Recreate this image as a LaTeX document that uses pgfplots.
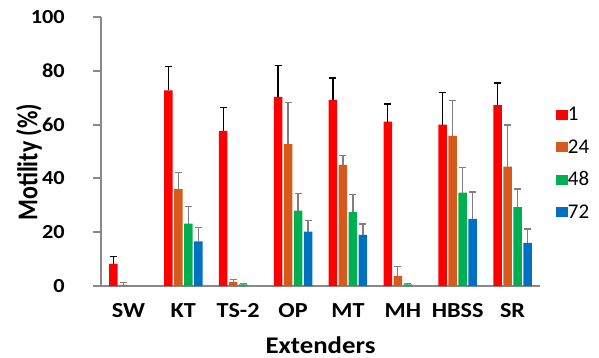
\documentclass[border=0pt]{standalone}
\usepackage{fontspec}
\setmainfont{Carlito}
\newfontfamily\fyt[FakeStretch=1.12]{Carlito}
\newfontfamily\fxt[FakeStretch=1.13]{Carlito}
\newfontfamily\fxl[FakeStretch=1.12]{Carlito}
\usepackage{graphicx}
\usepackage{pgfplots}
\pgfplotsset{compat=1.18}
\definecolor{cRed}{HTML}{FF0000}
\definecolor{cOrg}{HTML}{D55A1B}
\definecolor{cGrn}{HTML}{00B050}
\definecolor{cBlu}{HTML}{0070C0}
\definecolor{axgray}{HTML}{898989}
\definecolor{errgray}{HTML}{7F7F7F}
\begin{document}
\begin{tikzpicture}
\begin{axis}[
  at={(0,0)}, anchor=south west,
  scale only axis, width=439bp, height=269bp,
  xmin=-0.5, xmax=7.5, ymin=0, ymax=100,
  axis x line=bottom, axis y line=left,
  axis line style={axgray, line width=2.5bp, -},
  xtick=data,
  xticklabels={SW,KT,TS-2,OP,MT,MH,HBSS,SR},
  xtick style={draw=none},
  ytick={0,20,40,60,80,100},
  ytick style={axgray, line width=2bp},
  tick align=outside, major tick length=8bp,
  /pgf/number format/assume math mode=true,
  yticklabel style={font=\fyt\fontsize{20}{24}\selectfont\bfseries, anchor=east, inner sep=0pt, xshift=-28bp},
  xticklabel style={font=\fxt\fontsize{21.5}{24}\selectfont\bfseries, anchor=base, inner sep=0pt, yshift=-23bp},
  xlabel={Extenders}, ylabel={\scalebox{1}[1.2]{Motility (\%)}},
  xlabel style={font=\fxl\fontsize{24}{28}\selectfont\bfseries, at={(axis description cs:0.5,0)}, anchor=base, inner sep=0pt, yshift=-67bp},
  ylabel style={font=\fontsize{24}{28}\selectfont\bfseries, at={(axis description cs:-0.1641,0.46)}, anchor=center, inner sep=0pt},
  ybar, bar width=8.5bp,
  clip=false,
  legend style={draw=none, fill=none, at={(1.0364,0.456)}, anchor=west, inner sep=0pt, outer sep=0pt,
    font=\fontsize{21}{24}\selectfont, row sep=20bp,
    nodes={inner sep=0pt, text height=12.5bp, text depth=0pt}},
  legend cell align=left,
  legend image code/.code={\fill[#1] (0bp,-5bp) rectangle (12bp,5bp);},
  error bars/y dir=plus, error bars/y explicit,
  error bars/error bar style={line width=1.3bp},
  error bars/error mark options={rotate=90, mark size=3.5bp, line width=1.3bp},
]
\addplot[fill=cRed, draw=none, bar shift=-15bp,
  error bars/error bar style={black, line width=1.3bp},
  error bars/error mark options={black, rotate=90, mark size=3.5bp, line width=1.3bp}]
  coordinates {(0,8.2) +- (0,2.7) (1,72.7) +- (0,8.8) (2,57.7) +- (0,8.7) (3,70.3) +- (0,11.8)
               (4,69.2) +- (0,8.1) (5,61.1) +- (0,6.6) (6,60.0) +- (0,11.9) (7,67.2) +- (0,8.3)};
\addplot[fill=cOrg, draw=none, bar shift=-5bp,
  error bars/error bar style={errgray, line width=1.3bp},
  error bars/error mark options={errgray, rotate=90, mark size=3.5bp, line width=1.3bp}]
  coordinates {(0,0.4) +- (0,0.8) (1,36.0) +- (0,6.2) (2,1.5) +- (0,1.0) (3,52.7) +- (0,15.5)
               (4,45.0) +- (0,3.5) (5,3.8) +- (0,3.4) (6,55.8) +- (0,13.2) (7,44.4) +- (0,15.4)};
\addplot[fill=cGrn, draw=none, bar shift=5bp,
  error bars/error bar style={errgray, line width=1.3bp},
  error bars/error mark options={errgray, rotate=90, mark size=3.5bp, line width=1.3bp}]
  coordinates {(1,23.2) +- (0,6.3) (2,0.6) +- (0,0.2) (3,28.0) +- (0,6.5)
               (4,27.5) +- (0,6.4) (5,0.6) +- (0,0.2) (6,34.7) +- (0,9.3) (7,29.3) +- (0,6.8)};
\addplot[fill=cBlu, draw=none, bar shift=15bp,
  error bars/error bar style={errgray, line width=1.3bp},
  error bars/error mark options={errgray, rotate=90, mark size=3.5bp, line width=1.3bp}]
  coordinates {(1,16.6) +- (0,5.1) (3,20.2) +- (0,4.1)
               (4,19.0) +- (0,4.0) (6,25.0) +- (0,10.0) (7,16.0) +- (0,5.2)};
\legend{1,24,48,72}
\end{axis}
\path[use as bounding box] (-101bp,-72bp) rectangle (498bp,286bp);
\end{tikzpicture}
\end{document}
